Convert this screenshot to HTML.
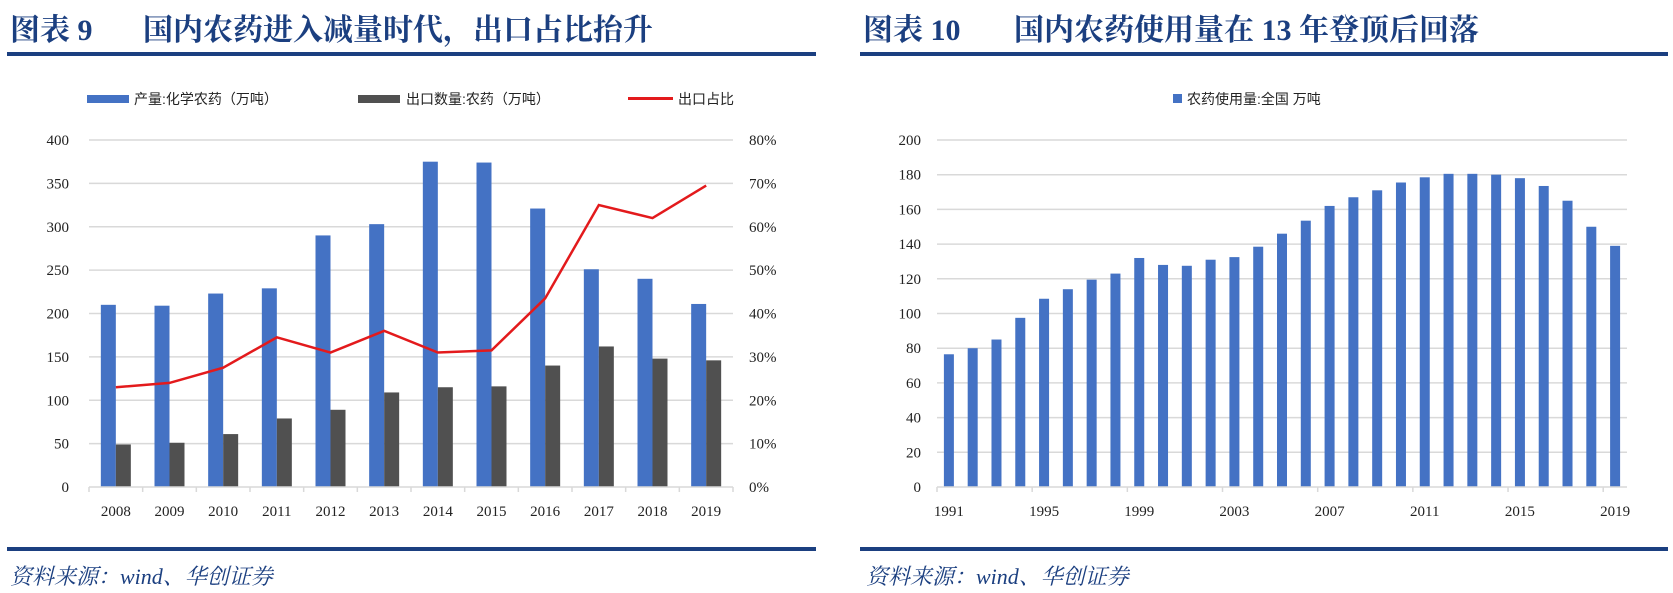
<!DOCTYPE html>
<html><head><meta charset="utf-8">
<style>
html,body{margin:0;padding:0;background:#fff;}
body{width:1673px;height:593px;overflow:hidden;position:relative;}
svg{position:absolute;left:0;top:0;}
.t{font-family:"Liberation Serif","Noto Serif CJK SC",serif;font-weight:bold;fill:#1b3f80;font-size:30px;}
.ax{font-family:"Liberation Serif","Noto Sans CJK SC",serif;font-size:15px;fill:#222;}
.lg{font-family:"Liberation Sans","Noto Sans CJK SC",sans-serif;font-size:14px;fill:#222;}
.src{font-family:"Liberation Serif","Noto Serif CJK SC",serif;font-style:italic;font-size:22px;fill:#1b3f80;}
</style></head>
<body>
<svg id="svg" width="1673" height="593" xmlns="http://www.w3.org/2000/svg">
<text class="t" x="10" y="40">图表 9 <tspan x="143">国内农药进入减量时代，出口占比抬升</tspan></text>
<rect x="7" y="52" width="809" height="4" fill="#1b3f80"/>
<text class="t" x="863" y="40">图表 10 <tspan x="1014">国内农药使用量在 13 年登顶后回落</tspan></text>
<rect x="860" y="52" width="808" height="4" fill="#1b3f80"/>
<rect x="7" y="547" width="809" height="4" fill="#1b3f80"/>
<rect x="860" y="547" width="808" height="4" fill="#1b3f80"/>
<text class="src" x="10" y="584">资料来源：wind、华创证券</text>
<text class="src" x="866" y="584">资料来源：wind、华创证券</text>

<rect x="87" y="95" width="42" height="8" fill="#4472c4"/>
<text class="lg" x="134" y="104">产量:化学农药（万吨）</text>
<rect x="358" y="95" width="42" height="8" fill="#505050"/>
<text class="lg" x="406" y="104">出口数量:农药（万吨）</text>
<rect x="628" y="97" width="45" height="3" fill="#e31a1c"/>
<text class="lg" x="678" y="104">出口占比</text>

<rect x="1173" y="94" width="9" height="9" fill="#4472c4"/>
<text class="lg" x="1187" y="104">农药使用量:全国 万吨</text>
<g id="left"></g><g id="right"></g>
</svg>
<script>
const years1 = ['2008','2009','2010','2011','2012','2013','2014','2015','2016','2017','2018','2019'];
const production = [210,209,223,229,290,303,375,374,321,251,240,211];
const exportQty = [49,51,61,79,89,109,115,116,140,162,148,146];
const exportShare = [23,24,27.5,34.5,31,36,31,31.5,43.5,65,62,69.5];
const leftTicks = [0,50,100,150,200,250,300,350,400];
const rightTicks = [0,10,20,30,40,50,60,70,80];
const years2 = ['1991','1992','1993','1994','1995','1996','1997','1998','1999','2000','2001','2002','2003','2004','2005','2006','2007','2008','2009','2010','2011','2012','2013','2014','2015','2016','2017','2018','2019'];
const usage = [76.5,80,85,97.5,108.5,114,119.5,123,132,128,127.5,131,132.5,138.5,146,153.5,162,167,171,175.5,178.5,180.5,180.5,180,178,173.5,165,150,139];
const usageTicks = [0,20,40,60,80,100,120,140,160,180,200];

const NS='http://www.w3.org/2000/svg';
function mk(p,tag,a,txt){const e=document.createElementNS(NS,tag);for(const k in a)e.setAttribute(k,a[k]);if(txt!==undefined)e.textContent=txt;p.appendChild(e);return e;}

// left chart
(function(){
const g=document.getElementById('left');
const x0=89,x1=733,yT=140,yB=487;
const y=v=>yB-(v/400)*(yB-yT);
const yr=v=>yB-(v/80)*(yB-yT);
const bw=(x1-x0)/years1.length;
const cx=i=>x0+bw*(i+0.5);
leftTicks.forEach(t=>{
  if(t>0){const l=mk(g,'line',{x1:x0,x2:x1,y1:y(t),y2:y(t),stroke:'#d9d9d9','stroke-width':1.5});
  
  }
  const tx=mk(g,'text',{class:'ax',x:69,y:y(t)+5,'text-anchor':'end'},String(t));
  
  
});
rightTicks.forEach(t=>{
  const tx=mk(g,'text',{class:'ax',x:749,y:yr(t)+5},t+'%');
  
  
});
years1.forEach((yrs,i)=>{
  const b=mk(g,'rect',{x:cx(i)-15,y:y(production[i]),width:15,height:yB-y(production[i]),fill:'#4472c4'});
  
  
  const c=mk(g,'rect',{x:cx(i),y:y(exportQty[i]),width:15,height:yB-y(exportQty[i]),fill:'#505050'});
  
  
  const tx=mk(g,'text',{class:'ax',x:cx(i),y:516,'text-anchor':'middle'},yrs);
  
  
});
const ax=mk(g,'line',{x1:x0,x2:x1,y1:yB,y2:yB,stroke:'#d9d9d9','stroke-width':1.5});


for(let i=0;i<=years1.length;i++){
  const tk=mk(g,'line',{x1:x0+bw*i,x2:x0+bw*i,y1:yB,y2:yB+5,stroke:'#d9d9d9','stroke-width':1.5});
  
  
}
const pl=mk(g,'polyline',{points:exportShare.map((v,i)=>cx(i)+','+yr(v)).join(' '),fill:'none',stroke:'#e31a1c','stroke-width':2.5});


})();

// right chart
(function(){
const g=document.getElementById('right');
const x0=937,x1=1627,yT=140,yB=487;
const y=v=>yB-(v/200)*(yB-yT);
const bw=(x1-x0)/years2.length;
const cx=i=>x0+bw*(i+0.5);
usageTicks.forEach(t=>{
  if(t>0){const l=mk(g,'line',{x1:x0,x2:x1,y1:y(t),y2:y(t),stroke:'#d9d9d9','stroke-width':1.5});
  
  }
  const tx=mk(g,'text',{class:'ax',x:921,y:y(t)+5,'text-anchor':'end'},String(t));
  
  
});
years2.forEach((yrs,i)=>{
  const b=mk(g,'rect',{x:cx(i)-5,y:y(usage[i]),width:10,height:yB-y(usage[i]),fill:'#4472c4'});
  
  
  if(i%4===0){
    const tx=mk(g,'text',{class:'ax',x:cx(i),y:516,'text-anchor':'middle'},yrs);
    
    
    const tk=mk(g,'line',{x1:x0+bw*i,x2:x0+bw*i,y1:yB,y2:yB+5,stroke:'#d9d9d9','stroke-width':1.5});
    
    
  }
});
const ax=mk(g,'line',{x1:x0,x2:x1,y1:yB,y2:yB,stroke:'#d9d9d9','stroke-width':1.5});


})();
</script>
</body></html>
